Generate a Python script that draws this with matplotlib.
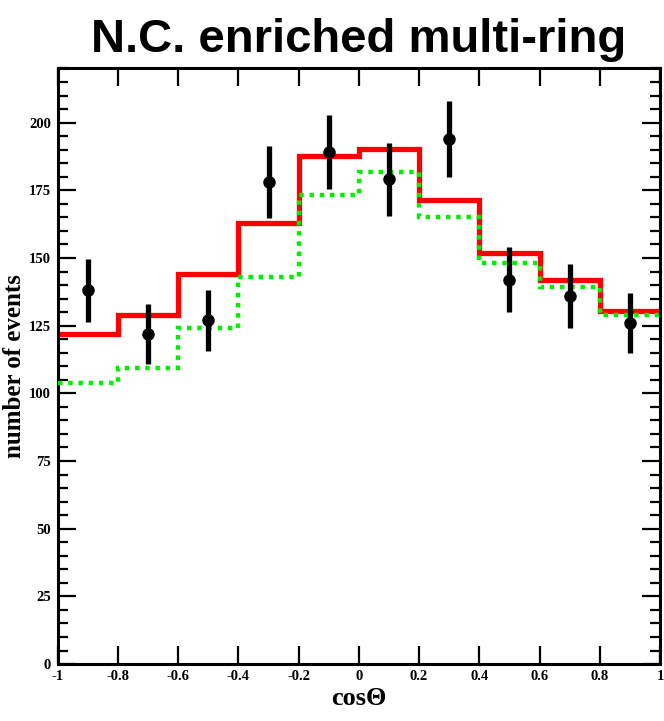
import matplotlib
matplotlib.use("Agg")
import matplotlib.pyplot as plt
import numpy as np

# bin edges in cos(theta)
edges = [-1.0, -0.8, -0.6, -0.4, -0.2, 0.0, 0.2, 0.4, 0.6, 0.8, 1.0]

# MC expectation (solid red) and alternative MC (dotted green)
mc_red = [122, 129, 144, 163, 187.5, 190.3, 171.6, 151.7, 141.8, 130.6]
mc_green = [103.7, 109.2, 124, 142.8, 173.1, 181.8, 165.2, 148.2, 139.4, 128.8]

# data points
data_x = [-0.9, -0.7, -0.5, -0.3, -0.1, 0.1, 0.3, 0.5, 0.7, 0.9]
data_y = [138, 122, 127, 178, 189, 179, 194, 142, 136, 126]
data_err = [11.7, 11.0, 11.3, 13.3, 13.7, 13.4, 13.9, 11.9, 11.7, 11.2]

serif = ["Liberation Serif", "DejaVu Serif"]

fig = plt.figure(figsize=(6.64, 7.21), dpi=100)
ax = fig.add_axes([0.087, 0.0790, 0.907, 0.826])

ax.stairs(mc_red, edges, baseline=None, color="#ff0000", lw=3.8, zorder=2)
ax.stairs(mc_green, edges, baseline=None, color="#00ee00", lw=3.2,
          linestyle=(0, (1, 1.3)), zorder=3)
ax.errorbar(data_x, data_y, yerr=data_err, fmt="o", color="black",
            ms=8, elinewidth=3.8, capsize=0, zorder=4)

ax.set_xlim(-1, 1)
ax.set_ylim(0, 220)
ax.set_xticks(np.arange(-1, 1.01, 0.2))
ax.set_xticklabels(["-1", "-0.8", "-0.6", "-0.4", "-0.2", "0", "0.2", "0.4", "0.6", "0.8", "1"])
ax.set_yticks(np.arange(0, 201, 25))
ax.set_yticks(np.arange(0, 221, 5), minor=True)

ax.tick_params(axis="both", which="major", direction="in", length=13, width=1.6,
               top=True, right=True, labelsize=10.5)
ax.tick_params(axis="y", which="minor", direction="in", length=7, width=1.6,
               left=True, right=True)
ax.tick_params(axis="y", which="major", pad=5)
ax.tick_params(axis="x", which="major", pad=4)
for lab in ax.get_xticklabels() + ax.get_yticklabels():
    lab.set_family(serif)
    lab.set_fontweight("bold")

for sp in ax.spines.values():
    sp.set_linewidth(2.2)

ax.set_xlabel("cos\u0398", family=serif, fontweight="bold", fontsize=19, labelpad=3)
ax.set_ylabel("number of events", family=serif, fontweight="bold", fontsize=18, labelpad=0)
ax.yaxis.set_label_coords(-0.052, 0.5)
ax.set_title("N.C. enriched multi-ring", family=["Liberation Sans", "DejaVu Sans"],
             fontweight="bold", fontsize=34, pad=12)

fig.savefig("out.png", dpi=100)
